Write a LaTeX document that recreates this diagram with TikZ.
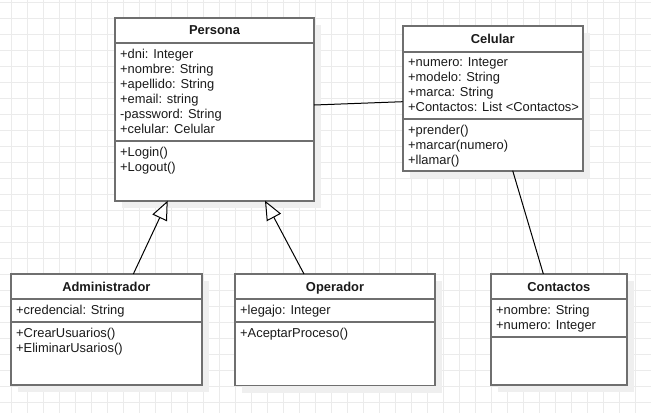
\documentclass[tikz,border=0pt]{standalone}
\usepackage{fontspec}
\setmainfont{Liberation Sans}
\usetikzlibrary{arrows.meta}
\definecolor{gridc}{HTML}{EBEBEB}
\definecolor{boxc}{HTML}{6F6F6F}
\definecolor{shadowc}{HTML}{EFEFEF}
\definecolor{txtc}{HTML}{1A1A1A}
\tikzset{
 cls/.style={draw=boxc, line width=1.8pt, fill=white, anchor=north west, inner sep=0pt, outer sep=0pt},
 shd/.style={fill=shadowc, draw=none, anchor=north west, inner sep=0pt, outer sep=0pt},
 sepline/.style={draw=boxc, line width=1.8pt},
 attr/.style={anchor=base west, inner sep=0pt, font=\fontsize{12.9}{15}\selectfont, text=txtc},
 ttl/.style={anchor=base, inner sep=0pt, font=\fontsize{12.9}{15}\selectfont\bfseries, text=txtc},
 conn/.style={draw=black, line width=1pt},
 inh/.style={conn, -{Triangle[open, length=19pt, width=16pt, fill=white]}},
}
\begin{document}
\begin{tikzpicture}[x=1pt,y=-1pt]
\useasboundingbox (0,0) rectangle (651,413);
\fill[white] (0,0) rectangle (651,413);
% grid
\foreach \gx in {11.5,27.5,...,651} \draw[gridc, line width=1pt] (\gx,0) -- (\gx,413);
\foreach \gy in {2.3,18.3,...,413} \draw[gridc, line width=1pt] (0,\gy) -- (651,\gy);
% shadows
\node[shd, minimum width=199pt, minimum height=183pt] (spersona) at (122,24.7) {};
\node[shd, minimum width=180pt, minimum height=145pt] (scelular) at (409.7,32.7) {};
\node[shd, minimum width=190.7pt, minimum height=111pt] (sadmin) at (18,281) {};
\node[shd, minimum width=200pt, minimum height=111.5pt] (soper) at (242,281) {};
\node[shd, minimum width=135.7pt, minimum height=111pt] (scont) at (498,281) {};
% boxes
\node[cls, minimum width=199pt, minimum height=183pt] (persona) at (115,17.7) {};
\node[cls, minimum width=180pt, minimum height=145pt] (celular) at (402.7,25.7) {};
\node[cls, minimum width=190.7pt, minimum height=111pt] (admin) at (11,274) {};
\node[cls, minimum width=200pt, minimum height=111.5pt] (oper) at (235,274) {};
\node[cls, minimum width=135.7pt, minimum height=111pt] (cont) at (491,274) {};
% connectors
\draw[conn] ([yshift=4.2pt]persona.east) -- ([yshift=-3.5pt]celular.west);
\draw[conn] ([xshift=20pt]celular.south) -- ([xshift=-15.5pt]cont.north);
\draw[inh] ([xshift=27pt]admin.north) -- ([xshift=-46.8pt]persona.south);
\draw[inh] ([xshift=-31pt]oper.north) -- ([xshift=50.5pt]persona.south);
% separators
\draw[sepline] (persona.west |- 0,43) -- (persona.east |- 0,43);
\draw[sepline] (persona.west |- 0,140.7) -- (persona.east |- 0,140.7);
\draw[sepline] (celular.west |- 0,51.7) -- (celular.east |- 0,51.7);
\draw[sepline] (celular.west |- 0,118.7) -- (celular.east |- 0,118.7);
\draw[sepline] (admin.west |- 0,298.7) -- (admin.east |- 0,298.7);
\draw[sepline] (admin.west |- 0,321.7) -- (admin.east |- 0,321.7);
\draw[sepline] (oper.west |- 0,298.7) -- (oper.east |- 0,298.7);
\draw[sepline] (oper.west |- 0,321.7) -- (oper.east |- 0,321.7);
\draw[sepline] (cont.west |- 0,298.7) -- (cont.east |- 0,298.7);
\draw[sepline] (cont.west |- 0,337) -- (cont.east |- 0,337);
% Persona
\node[ttl] (tpersona) at (214.5,34.8) {Persona};
\node[attr] (pa1) at (120,58) {+dni: Integer};
\node[attr] (pa2) at (120,73) {+nombre: String};
\node[attr] (pa3) at (120,88) {+apellido: String};
\node[attr] (pa4) at (120,103) {+email: string};
\node[attr] (pa5) at (120,118) {-password: String};
\node[attr] (pa6) at (120,133) {+celular: Celular};
\node[attr] (pm1) at (120,156) {+Login()};
\node[attr] (pm2) at (120,171) {+Logout()};
% Celular
\node[ttl] (tcelular) at (492.7,43.5) {Celular};
\node[attr] (ca1) at (408,66) {+numero: Integer};
\node[attr] (ca2) at (408,81) {+modelo: String};
\node[attr] (ca3) at (408,96) {+marca: String};
\node[attr] (ca4) at (408,111) {+Contactos: List <Contactos>};
\node[attr] (cm1) at (408,134) {+prender()};
\node[attr] (cm2) at (408,149) {+marcar(numero)};
\node[attr] (cm3) at (408,164) {+llamar()};
% Administrador
\node[ttl] (tadmin) at (106.35,291) {Administrador};
\node[attr] (aa1) at (16,314.5) {+credencial: String};
\node[attr] (am1) at (16,337) {+CrearUsuarios()};
\node[attr] (am2) at (16,352) {+EliminarUsarios()};
% Operador
\node[ttl] (toper) at (335,291) {Operador};
\node[attr] (oa1) at (240,314.5) {+legajo: Integer};
\node[attr] (om1) at (240,337) {+AceptarProceso()};
% Contactos
\node[ttl] (tcont) at (558.85,291) {Contactos};
\node[attr] (ta1) at (496,314.5) {+nombre: String};
\node[attr] (ta2) at (496,329.5) {+numero: Integer};
\end{tikzpicture}
\end{document}
